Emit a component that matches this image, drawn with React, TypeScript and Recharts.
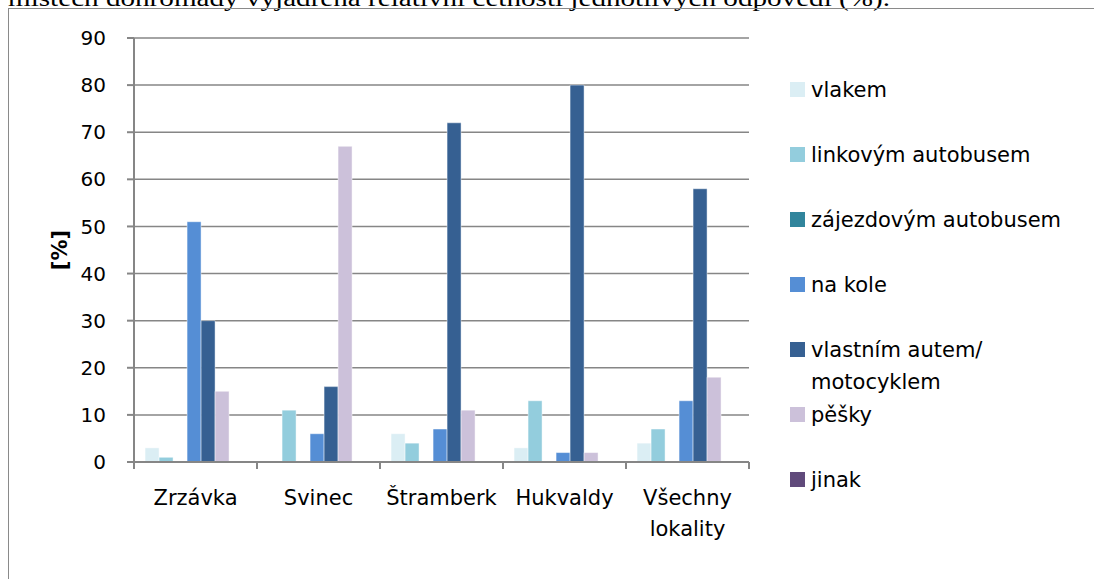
import React from "react";
import { BarChart, Bar, XAxis, YAxis, CartesianGrid } from "recharts";

const categories = ["Zrzávka", "Svinec", "Štramberk", "Hukvaldy", "Všechny lokality"];
const vlakem = [3, 0, 6, 3, 4];
const linkovym = [1, 11, 4, 13, 7];
const zajezdovym = [0, 0, 0, 0, 0];
const naKole = [51, 6, 7, 2, 13];
const autem = [30, 16, 72, 80, 58];
const pesky = [15, 67, 11, 2, 18];
const jinak = [0, 0, 0, 0, 0];
const yTicks = [0, 10, 20, 30, 40, 50, 60, 70, 80, 90];

const series = [
  { key: "vlakem", name: "vlakem", color: "#DBEEF4", values: vlakem },
  { key: "linkovym", name: "linkovým autobusem", color: "#93CDDD", values: linkovym },
  { key: "zajezdovym", name: "zájezdovým autobusem", color: "#31859C", values: zajezdovym },
  { key: "naKole", name: "na kole", color: "#558ED5", values: naKole },
  { key: "autem", name: "vlastním autem/ motocyklem", color: "#366092", values: autem },
  { key: "pesky", name: "pěšky", color: "#CCC1DA", values: pesky },
  { key: "jinak", name: "jinak", color: "#604A7B", values: jinak },
];

const data = categories.map((c, i) => {
  const row: any = { name: c };
  series.forEach((s) => (row[s.key] = s.values[i]));
  return row;
});

const FONT = "'DejaVu Sans', sans-serif";
const AXIS = "#868686";

const XTick = (props: any) => {
  const { x, y, payload, index, visibleTicksCount, width } = props;
  const half = width && visibleTicksCount ? width / visibleTicksCount / 2 : 0;
  const value = String(payload.value);
  const lines = value.length > 10 && value.includes(" ") ? value.split(" ") : [value];
  return (
    <g>
      {half ? <line x1={x - half} x2={x - half} y1={y} y2={y + 7} stroke={AXIS} strokeWidth={2} /> : null}
      {half && index === visibleTicksCount - 1 ? (
        <line x1={x + half} x2={x + half} y1={y} y2={y + 7} stroke={AXIS} strokeWidth={2} />
      ) : null}
      <text x={x} y={y + 43} textAnchor="middle" fontFamily={FONT} fontSize={21} fill="#000">
        {lines.map((l: string, i: number) => (
          <tspan key={i} x={x} dy={i === 0 ? 0 : 31}>
            {l}
          </tspan>
        ))}
      </text>
    </g>
  );
};

const YLabel = (props: any) => {
  const { viewBox } = props;
  const cx = viewBox.x + 6;
  const cy = viewBox.y + viewBox.height / 2;
  return (
    <text
      x={cx}
      y={cy}
      transform={`rotate(-90, ${cx}, ${cy})`}
      textAnchor="middle"
      dominantBaseline="central"
      fontFamily={FONT}
      fontSize={21}
      fontWeight="bold"
      fill="#000"
    >
      [%]
    </text>
  );
};

const LegendBlock = () => (
  <div style={{ position: "absolute", left: 790, top: 74, width: 304, fontFamily: FONT, fontSize: 21, color: "#000" }}>
    {series.map((s, i) => {
      const parts = s.name.split("/ ");
      return (
        <div key={i} style={{ position: "relative", height: 65 }}>
          <div style={{ position: "absolute", left: 0, top: 8, width: 15, height: 15, background: s.color }} />
          <div style={{ position: "absolute", left: 21, top: 0, lineHeight: "32px", whiteSpace: "nowrap" }}>
            {parts.length > 1 ? (
              <>
                {parts[0] + "/"}
                <br />
                {parts[1]}
              </>
            ) : (
              s.name
            )}
          </div>
        </div>
      );
    })}
  </div>
);

export default function App() {
  return (
    <div
      style={{
        position: "absolute",
        left: 0,
        top: 0,
        width: 1094,
        height: 579,
        overflow: "hidden",
        background: "#fff",
      }}
    >
      <svg width={1094} height={20} style={{ position: "absolute", left: 0, top: 0 }}>
        <text
          x={8}
          y={6}
          textLength={882}
          lengthAdjust="spacingAndGlyphs"
          fontFamily="'Liberation Serif', serif"
          fontSize={24}
          fill="#000"
        >
          místech dohromady vyjádřena relativní četností jednotlivých odpovědí (%).
        </text>
      </svg>
      <div
        style={{
          position: "absolute",
          left: 8,
          top: 8,
          width: 1200,
          height: 700,
          border: "1.5px solid #8a8a8a",
        }}
      />
      <div style={{ position: "absolute", left: 0, top: 0 }}>
        <BarChart
          width={1094}
          height={579}
          data={data}
          margin={{ top: 38, right: 345, bottom: 57, left: 54 }}
          barCategoryGap="9%"
          barGap={0}
        >
          <CartesianGrid vertical={false} stroke={AXIS} strokeWidth={1.5} />
          <XAxis
            dataKey="name"
            height={60}
            interval={0}
            tickLine={false}
            tickSize={0}
            tickMargin={0}
            axisLine={{ stroke: AXIS, strokeWidth: 2 }}
            tick={<XTick />}
          />
          <YAxis
            width={80}
            domain={[0, 90]}
            ticks={yTicks}
            interval={0}
            tickSize={7}
            tickMargin={21}
            axisLine={{ stroke: AXIS, strokeWidth: 2 }}
            tickLine={{ stroke: AXIS, strokeWidth: 2 }}
            tick={{ fontFamily: FONT, fontSize: 20, fill: "#000" }}
            label={<YLabel />}
          />
          {series.map((s) => (
            <Bar
              key={s.key}
              dataKey={s.key}
              name={s.name}
              fill={s.color}
              stroke="#ffffff"
              strokeOpacity={0.45}
              strokeWidth={1}
              isAnimationActive={false}
            />
          ))}
        </BarChart>
      </div>
      <LegendBlock />
    </div>
  );
}
